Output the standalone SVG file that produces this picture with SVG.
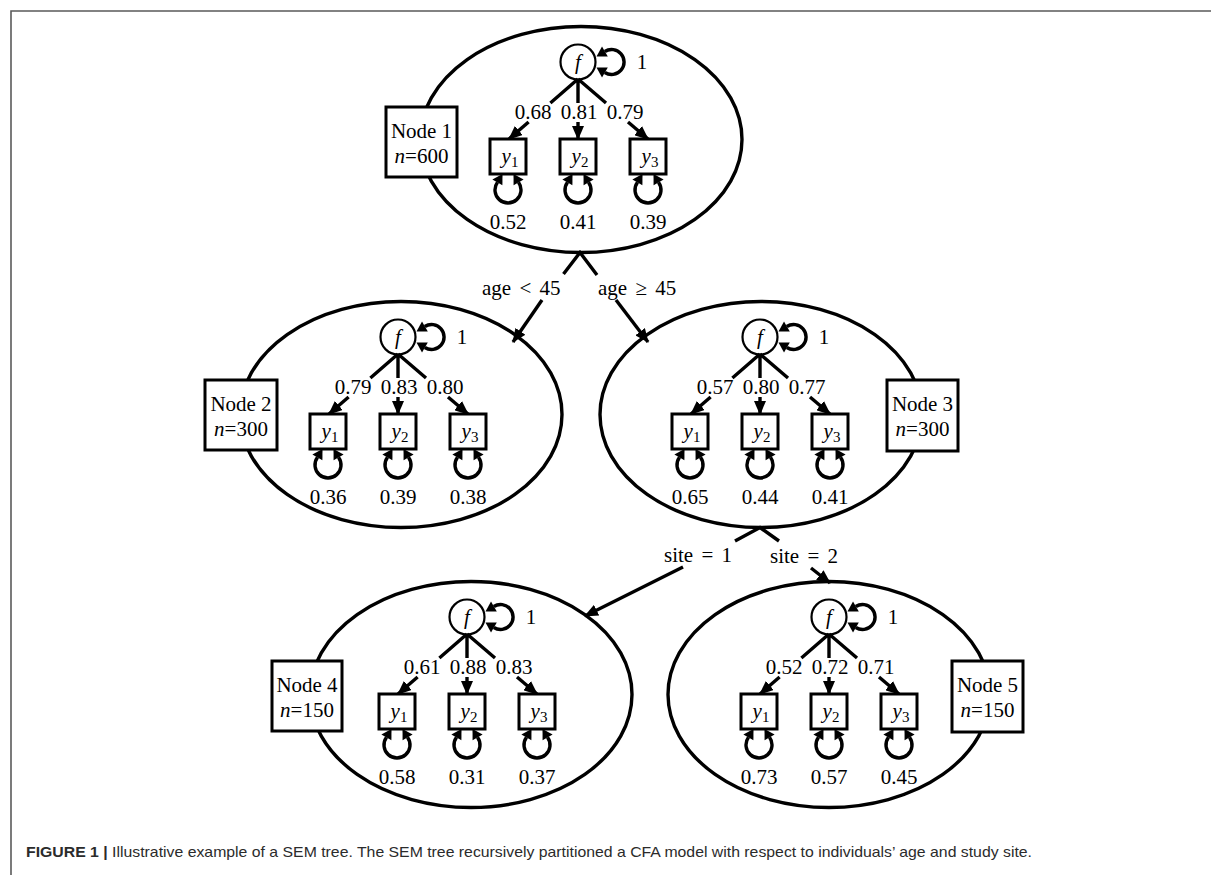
<svg xmlns="http://www.w3.org/2000/svg" xmlns:xlink="http://www.w3.org/1999/xlink" width="1211" height="875" viewBox="0 0 1211 875">
  <style>
    .frame { stroke: #5a5a5a; stroke-width: 1.6; fill: none; }
    .oval { fill: none; stroke: #000; stroke-width: 3.4; }
    .nbox { fill: #fff; stroke: #000; stroke-width: 3; }
    .ln { fill: none; stroke: #000; stroke-width: 3.4; }
    .ar { fill: none; stroke: #000; stroke-width: 3.4; marker-end: url(#tip); }
    .t { font-family: "Liberation Serif", "Times New Roman", serif; font-size: 21px; fill: #000; }
    .m { text-anchor: middle; }
    .i { font-style: italic; }
    .sub { font-size: 15px; font-style: normal; }
    .cap { font-family: "Liberation Sans", Arial, sans-serif; font-size: 14.5px; fill: #2b2b2b; }
  </style>
  <defs>
    <marker id="tip" markerUnits="userSpaceOnUse" viewBox="0 0 14 12" markerWidth="14" markerHeight="12" refX="13" refY="6" orient="auto">
      <path d="M0,0 L14,6 L0,12 z" fill="#000"/>
    </marker>
    <!-- variance loop on a latent factor, origin = factor centre -->
    <g id="selfloop">
      <path d="M26.8,-10.5 A12.5,12.5 0 1 1 26.8,10.5" fill="none" stroke="#000" stroke-width="3.4"/>
      <polygon points="18.5,-5.5 29.8,-5.6 24.0,-15.6" fill="#000"/>
      <polygon points="18.5,5.5 29.8,5.6 24.0,15.6" fill="#000"/>
    </g>
    <!-- residual variance loop, origin = bottom centre of an indicator box -->
    <g id="resid">
      <path d="M-10.5,8.3 A13,13 0 1 0 10.5,8.3" fill="none" stroke="#000" stroke-width="3.4"/>
      <polygon points="-5.5,0 -5.6,11.3 -15.6,5.5" fill="#000"/>
      <polygon points="5.5,0 5.6,11.3 15.6,5.5" fill="#000"/>
    </g>
    <!-- one-factor CFA measurement model, origin = factor centre -->
    <g id="cfa">
      <circle cx="0" cy="0" r="17.5" fill="#fff" stroke="#000" stroke-width="2.2"/>
      <use xlink:href="#selfloop"/>
      <path class="ln" d="M0,17 L-27.6,41 M0,17 L0,41 M0,17 L28,41"/>
      <path class="ar" d="M-49.4,60 L-69,77"/>
      <path class="ar" d="M0,60 L0,77"/>
      <path class="ar" d="M50,60 L70,77"/>
      <rect x="-88" y="77" width="36" height="35" fill="#fff" stroke="#000" stroke-width="3"/>
      <rect x="-18" y="77" width="36" height="35" fill="#fff" stroke="#000" stroke-width="3"/>
      <rect x="52" y="77" width="36" height="35" fill="#fff" stroke="#000" stroke-width="3"/>
      <use xlink:href="#resid" x="-70" y="112"/>
      <use xlink:href="#resid" x="0" y="112"/>
      <use xlink:href="#resid" x="70" y="112"/>
    </g>
  </defs>

  <rect width="1211" height="875" fill="#fff"/>
  <path class="frame" d="M11,875 L11,11 L1211,11"/>

  <!-- splits between tree nodes -->
  <g id="connectors">
    <path class="ln" d="M563.5,274 L580,252.5 L597,275"/>
    <path class="ar" d="M542,300 L513,342"/>
    <path class="ar" d="M616,300 L648,342"/>
    <text class="t" x="482" y="295">age <tspan dx="3">&lt;</tspan> <tspan dx="3">45</tspan></text>
    <text class="t" x="598" y="295">age <tspan dx="3">≥</tspan> <tspan dx="3">45</tspan></text>

    <path class="ln" d="M735,541 L760,527.5 L779,541"/>
    <path class="ar" d="M683,567 L585,616"/>
    <path class="ar" d="M811,568 L830,583"/>
    <text class="t" x="664" y="562">site <tspan dx="3">=</tspan> <tspan dx="3">1</tspan></text>
    <text class="t" x="770" y="563">site <tspan dx="3">=</tspan> <tspan dx="3">2</tspan></text>
  </g>

  <!-- Node 1 -->
  <g id="node1">
    <ellipse class="oval" cx="581" cy="139.5" rx="161" ry="113"/>
    <use xlink:href="#cfa" x="578" y="62"/>
    <text class="t m i" x="578" y="69">f</text>
    <text class="t m" x="642" y="69">1</text>
    <text class="t m" x="533" y="118.5">0.68</text>
    <text class="t m" x="579" y="118.5">0.81</text>
    <text class="t m" x="625" y="118.5">0.79</text>
    <text class="t m" x="510" y="163"><tspan class="i">y</tspan><tspan class="sub" dy="4">1</tspan></text>
    <text class="t m" x="580" y="163"><tspan class="i">y</tspan><tspan class="sub" dy="4">2</tspan></text>
    <text class="t m" x="650" y="163"><tspan class="i">y</tspan><tspan class="sub" dy="4">3</tspan></text>
    <text class="t m" x="508" y="228.5">0.52</text>
    <text class="t m" x="578" y="228.5">0.41</text>
    <text class="t m" x="648" y="228.5">0.39</text>
    <rect class="nbox" x="386" y="107" width="71" height="70"/>
    <text class="t m" x="421.5" y="138">Node 1</text>
    <text class="t m" x="421.5" y="163"><tspan class="i">n</tspan>=600</text>
  </g>

  <!-- Node 2 -->
  <g id="node2">
    <ellipse class="oval" cx="401" cy="414.5" rx="161" ry="113"/>
    <use xlink:href="#cfa" x="398" y="337"/>
    <text class="t m i" x="398" y="344">f</text>
    <text class="t m" x="462" y="344">1</text>
    <text class="t m" x="353" y="393.5">0.79</text>
    <text class="t m" x="399" y="393.5">0.83</text>
    <text class="t m" x="445" y="393.5">0.80</text>
    <text class="t m" x="330" y="438"><tspan class="i">y</tspan><tspan class="sub" dy="4">1</tspan></text>
    <text class="t m" x="400" y="438"><tspan class="i">y</tspan><tspan class="sub" dy="4">2</tspan></text>
    <text class="t m" x="470" y="438"><tspan class="i">y</tspan><tspan class="sub" dy="4">3</tspan></text>
    <text class="t m" x="328" y="503.5">0.36</text>
    <text class="t m" x="398" y="503.5">0.39</text>
    <text class="t m" x="468" y="503.5">0.38</text>
    <rect class="nbox" x="205" y="380" width="72" height="70"/>
    <text class="t m" x="241" y="411">Node 2</text>
    <text class="t m" x="241" y="436"><tspan class="i">n</tspan>=300</text>
  </g>

  <!-- Node 3 -->
  <g id="node3">
    <ellipse class="oval" cx="761" cy="414.5" rx="161" ry="113"/>
    <use xlink:href="#cfa" x="760" y="337"/>
    <text class="t m i" x="760" y="344">f</text>
    <text class="t m" x="824" y="344">1</text>
    <text class="t m" x="715" y="393.5">0.57</text>
    <text class="t m" x="761" y="393.5">0.80</text>
    <text class="t m" x="807" y="393.5">0.77</text>
    <text class="t m" x="692" y="438"><tspan class="i">y</tspan><tspan class="sub" dy="4">1</tspan></text>
    <text class="t m" x="762" y="438"><tspan class="i">y</tspan><tspan class="sub" dy="4">2</tspan></text>
    <text class="t m" x="832" y="438"><tspan class="i">y</tspan><tspan class="sub" dy="4">3</tspan></text>
    <text class="t m" x="690" y="503.5">0.65</text>
    <text class="t m" x="760" y="503.5">0.44</text>
    <text class="t m" x="830" y="503.5">0.41</text>
    <rect class="nbox" x="887" y="380" width="71" height="71"/>
    <text class="t m" x="922.5" y="411">Node 3</text>
    <text class="t m" x="922.5" y="436"><tspan class="i">n</tspan>=300</text>
  </g>

  <!-- Node 4 -->
  <g id="node4">
    <ellipse class="oval" cx="471" cy="694.5" rx="161" ry="113"/>
    <use xlink:href="#cfa" x="467" y="617"/>
    <text class="t m i" x="467" y="624">f</text>
    <text class="t m" x="531" y="624">1</text>
    <text class="t m" x="422" y="673.5">0.61</text>
    <text class="t m" x="468" y="673.5">0.88</text>
    <text class="t m" x="514" y="673.5">0.83</text>
    <text class="t m" x="399" y="718"><tspan class="i">y</tspan><tspan class="sub" dy="4">1</tspan></text>
    <text class="t m" x="469" y="718"><tspan class="i">y</tspan><tspan class="sub" dy="4">2</tspan></text>
    <text class="t m" x="539" y="718"><tspan class="i">y</tspan><tspan class="sub" dy="4">3</tspan></text>
    <text class="t m" x="397" y="783.5">0.58</text>
    <text class="t m" x="467" y="783.5">0.31</text>
    <text class="t m" x="537" y="783.5">0.37</text>
    <rect class="nbox" x="272" y="661" width="70" height="70"/>
    <text class="t m" x="307" y="692">Node 4</text>
    <text class="t m" x="307" y="717"><tspan class="i">n</tspan>=150</text>
  </g>

  <!-- Node 5 -->
  <g id="node5">
    <ellipse class="oval" cx="829" cy="694.5" rx="161" ry="113"/>
    <use xlink:href="#cfa" x="829" y="617"/>
    <text class="t m i" x="829" y="624">f</text>
    <text class="t m" x="893" y="624">1</text>
    <text class="t m" x="784" y="673.5">0.52</text>
    <text class="t m" x="830" y="673.5">0.72</text>
    <text class="t m" x="876" y="673.5">0.71</text>
    <text class="t m" x="761" y="718"><tspan class="i">y</tspan><tspan class="sub" dy="4">1</tspan></text>
    <text class="t m" x="831" y="718"><tspan class="i">y</tspan><tspan class="sub" dy="4">2</tspan></text>
    <text class="t m" x="901" y="718"><tspan class="i">y</tspan><tspan class="sub" dy="4">3</tspan></text>
    <text class="t m" x="759" y="783.5">0.73</text>
    <text class="t m" x="829" y="783.5">0.57</text>
    <text class="t m" x="899" y="783.5">0.45</text>
    <rect class="nbox" x="952" y="661" width="71" height="71"/>
    <text class="t m" x="987.5" y="692">Node 5</text>
    <text class="t m" x="987.5" y="717"><tspan class="i">n</tspan>=150</text>
  </g>

  <text class="cap" x="26" y="857" textLength="1006" lengthAdjust="spacingAndGlyphs"><tspan font-weight="bold">FIGURE 1 |</tspan> Illustrative example of a SEM tree. The SEM tree recursively partitioned a CFA model with respect to individuals’ age and study site.</text>
</svg>
